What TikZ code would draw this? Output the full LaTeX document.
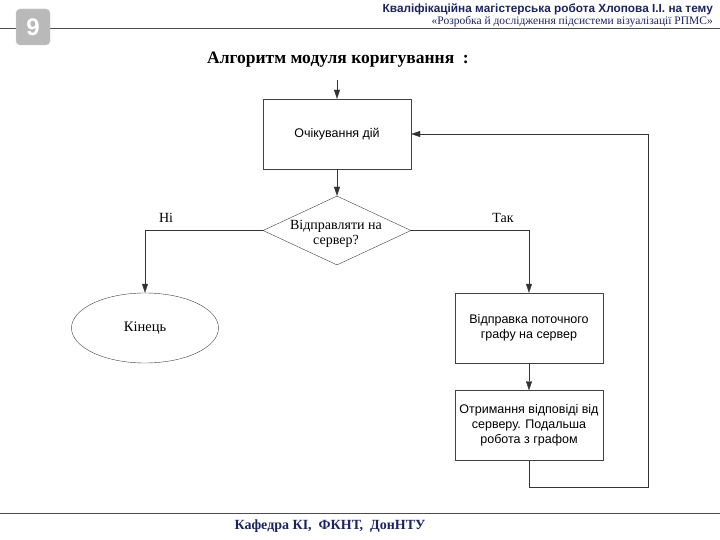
\documentclass[tikz,border=0pt]{standalone}
\usepackage{fontspec}
\setmainfont{Liberation Serif}
\setsansfont{Liberation Sans}
\usepackage{xcolor}
\usetikzlibrary{shapes.geometric,arrows.meta,positioning,calc}
\definecolor{navy}{RGB}{28,36,96}
\tikzset{
    block/.style={draw=black!75, minimum width=148pt, minimum height=70pt, align=center, font=\sffamily\fontsize{12.5}{15}\selectfont},
    decision/.style={draw=black!75, diamond, aspect=2.15, minimum width=148pt, minimum height=69pt, inner sep=0pt},
    endnode/.style={draw=black!75, ellipse, minimum width=147pt, minimum height=70pt, font=\fontsize{14.5}{15}\selectfont},
    flow/.style={draw=black!80, -{Triangle[length=9pt,width=6pt]}},
    lbl/.style={font=\fontsize{14}{15}\selectfont}
}
\begin{document}
\begin{tikzpicture}[x=1pt,y=-1pt]
    \useasboundingbox[fill=white] (0,0) rectangle (720,540);
    % header
    \draw[black!70, thick] (0,28) -- (720,28);
    \node[fill=gray!55, draw=gray!40, rounded corners=4pt, minimum width=34pt, minimum height=36pt, text=white, font=\sffamily\bfseries\fontsize{24}{24}\selectfont] (badge) at (33,27) {9};
    \node[anchor=east, text=navy, font=\sffamily\bfseries\fontsize{11.8}{12}\selectfont, inner sep=0pt] (head1) at (713,9) {Кваліфікаційна магістерська робота Хлопова І.І. на тему};
    \node[anchor=east, text=navy, font=\fontsize{11.5}{12}\selectfont, inner sep=0pt] (head2) at (713,22) {«Розробка й дослідження підсистеми візуалізації РПМС»};
    \node[font=\bfseries\fontsize{17.5}{18}\selectfont] (title) at (338,60) {Алгоритм модуля коригування\ \ :};

    % flowchart
    \coordinate (start) at (337,80);
    \node[block] (wait) at (337,134) {Очікування дій};
    \node[decision] (ask) at (337,230.5) {};
    \node[lbl, align=center] (asktext) at (336,234) {Відправляти на\\сервер?};
    \node[endnode] (stop) at (145,328) {Кінець};
    \node[block] (send) at (529,328) {Відправка поточного\\графу на сервер};
    \node[block] (recv) at (529,425.5) {Отримання відповіді від\\серверу. Подальша\\робота з графом};
    \coordinate (loopA) at (529,487);
    \coordinate (loopB) at (648,487);
    \coordinate (loopC) at (648,134);

    \draw[flow] (start) -- (wait);
    \draw[flow] (wait) -- (ask);
    \draw[flow] (ask.west) -| (stop.north);
    \draw[flow] (ask.east) -| (send.north);
    \draw[flow] (send) -- (recv);
    \draw[flow] (recv.south) -- (loopA) -- (loopB) -- (loopC) -- (wait.east);
    \node[lbl] (no) at (166,218) {Ні};
    \node[lbl] (yes) at (503,218) {Так};

    % footer
    \draw[black!70, thick] (0,513) -- (720,513);
    \node[text=navy, font=\bfseries\fontsize{14}{15}\selectfont] (foot) at (330,526) {Кафедра КІ,\ \ ФКНТ,\ \ ДонНТУ};
\end{tikzpicture}
\end{document}
